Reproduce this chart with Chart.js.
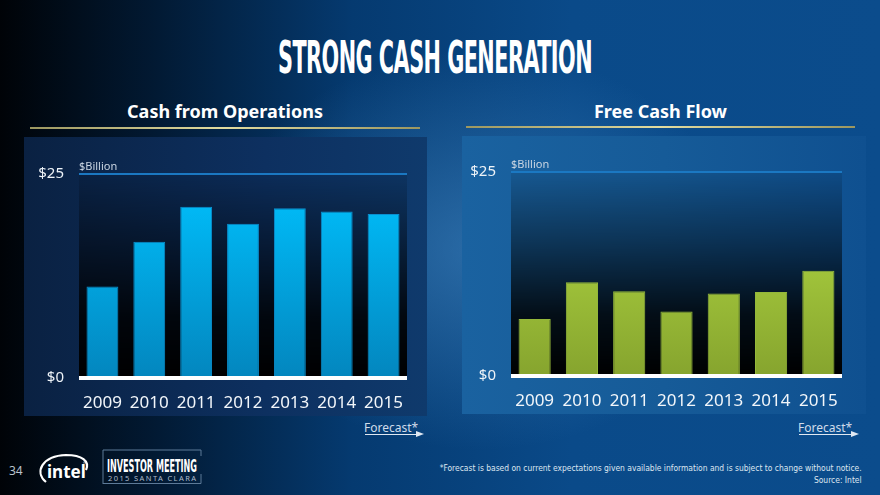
<!DOCTYPE html>
<html>
<head>
<meta charset="utf-8">
<script src="https://cdn.jsdelivr.net/npm/chart.js@4.4.1/dist/chart.umd.min.js"></script>
<style>
  html, body { margin: 0; padding: 0; }
  body {
    width: 880px; height: 495px; overflow: hidden; position: relative;
    font-family: "Noto Sans", "Open Sans", sans-serif; color: #fff;
    background:
      radial-gradient(ellipse 260px 200px at 480px 250px, rgba(70,140,200,0.55), rgba(70,140,200,0) 100%),
      linear-gradient(90deg, #000307 0%, #021a34 18%, #053a70 40%, #0a4a89 65%, #0b4c8c 100%);
  }
  .abs { position: absolute; }
  #title {
    top: 32px; left: 0; width: 870px; text-align: center;
    font-family: "Liberation Sans Narrow", "DejaVu Sans Condensed", sans-serif;
    font-weight: bold; font-size: 44px; line-height: 52px; letter-spacing: -1px;
  }
  #title span { display: inline-block; transform-origin: center; }
  .sub { top: 99px; font-weight: bold; font-size: 18px; text-align: center; }
  .rule { height: 2px; background: linear-gradient(90deg, #9c9760, #e2dca0 50%, #9c9760); }
  #p1 { left: 24px; top: 137px; width: 403px; height: 279px;
        background: linear-gradient(90deg, #0a2142 0%, #0d3060 60%, #0f3a6c 100%); }
  #p2 { left: 462px; top: 136px; width: 404px; height: 278px;
        background: linear-gradient(90deg, #1a62a0 0%, #165b98 50%, #0f5090 100%); }
  .fc { font-size: 12px; color: #d0dcea; }
  .arrow { height: 1px; background: #e0e8f2; }
  .head { width: 0; height: 0; border-top: 3.5px solid transparent; border-bottom: 3.5px solid transparent; border-left: 8px solid #e0e8f2; }
  #note { right: 18px; top: 462px; text-align: right; font-family: "Liberation Sans Narrow", "DejaVu Sans Condensed", sans-serif;
          font-size: 9.5px; line-height: 12px; color: #dde6f0; transform-origin: right top; }
</style>
</head>
<body>
<div id="title" class="abs"><span id="titleText">STRONG CASH GENERATION</span></div>

<div class="abs sub" style="left:30px; width:390px;">Cash from Operations</div>
<div class="abs rule" style="left:30px; top:127px; width:390px;"></div>
<div class="abs sub" style="left:466px; width:389px;">Free Cash Flow</div>
<div class="abs rule" style="left:466px; top:126px; width:389px;"></div>

<div id="p1" class="abs"><canvas id="cfoChart"></canvas></div>
<div id="p2" class="abs"><canvas id="fcfChart"></canvas></div>

<div class="abs fc" style="left:364px; top:419px;">Forecast*</div>
<div class="abs arrow" style="left:365px; top:434px; width:52px;"></div>
<div class="abs head" style="left:416px; top:431px;"></div>
<div class="abs fc" style="left:798px; top:419px;">Forecast*</div>
<div class="abs arrow" style="left:799px; top:434px; width:53px;"></div>
<div class="abs head" style="left:851px; top:431px;"></div>

<div class="abs" style="left:9px; top:462px; font-size:12px; color:#b8c2cc;">34</div>
<svg class="abs" style="left:36px; top:452px;" width="56" height="36" viewBox="0 0 56 36">
  <path d="M10 30 C -2 20, 6 4, 30 3 C 46 3, 54 9, 50 18" fill="none" stroke="#fff" stroke-width="2.2"/>
  <text x="11" y="26" fill="#fff" font-family="Noto Sans, sans-serif" font-weight="bold" font-size="17">intel</text>
  <text x="47" y="12" fill="#fff" font-size="4">®</text>
</svg>
<svg class="abs" style="left:100px; top:448px;" width="104" height="38">
  <path d="M3 36 L3 2 L101 2 L101 8" fill="none" stroke="#5d7a98" stroke-width="1"/>
  <path d="M3 35.5 L101 35.5 L101 26" fill="none" stroke="#5d7a98" stroke-width="1"/>
  <text x="7" y="24" fill="#fff" font-family="Liberation Sans Narrow, DejaVu Sans Condensed, sans-serif" font-weight="bold" font-size="17" textLength="90" lengthAdjust="spacingAndGlyphs">INVESTOR MEETING</text>
  <text x="8" y="33" fill="#aebccb" font-family="Noto Sans, sans-serif" font-size="7.5" textLength="88" lengthAdjust="spacing">2015 SANTA CLARA</text>
</svg>

<div id="note" class="abs">*Forecast is based on current expectations given available information and is subject to change without notice.<br>Source: Intel</div>

<script>
// values, $ billions
const years = ['2009', '2010', '2011', '2012', '2013', '2014', '2015'];
const cashFromOps = [11.2, 16.7, 21.0, 18.9, 20.8, 20.4, 20.1];
const freeCashFlow = [7.0, 11.5, 10.4, 7.9, 10.1, 10.3, 12.9];
const yTicks = [0, 25];
const unitLabel = '$Billion';

// squeeze the title and footnote into the slide's condensed look
const t = document.getElementById('titleText');
t.style.transform = 'scaleX(' + (314 / t.getBoundingClientRect().width) + ')';
const note = document.getElementById('note');
note.style.transform = 'scaleX(' + (422 / note.getBoundingClientRect().width) + ')';

// dark plot background and the "$Billion" caption
const plotBackdrop = {
  id: 'plotBackdrop',
  beforeDraw(chart) {
    const { ctx, chartArea: a } = chart;
    const g = ctx.createLinearGradient(0, a.top, 0, a.bottom);
    g.addColorStop(0, 'rgba(0,0,0,0.08)');
    g.addColorStop(0.35, 'rgba(0,0,0,0.45)');
    g.addColorStop(0.7, 'rgba(0,0,0,0.85)');
    g.addColorStop(1, 'rgba(0,0,0,1)');
    ctx.save();
    ctx.fillStyle = g;
    ctx.fillRect(a.left, a.top, a.right - a.left, a.bottom - a.top);
    ctx.restore();
  },
  afterDraw(chart) {
    const { ctx, chartArea: a } = chart;
    ctx.save();
    ctx.font = '11px "Noto Sans", sans-serif';
    ctx.fillStyle = '#c9d5e2';
    ctx.textBaseline = 'bottom';
    ctx.fillText(unitLabel, a.left, a.top - 2);
    ctx.restore();
  }
};

function barFill(top, bottom) {
  return function(context) {
    const a = context.chart.chartArea;
    if (!a) return top;
    const g = context.chart.ctx.createLinearGradient(0, a.top, 0, a.bottom);
    g.addColorStop(0, top);
    g.addColorStop(1, bottom);
    return g;
  };
}

function makeChart(id, values, topColor, bottomColor, edgeColor, pad, yWidth) {
  return new Chart(document.getElementById(id), {
    type: 'bar',
    data: {
      labels: years,
      datasets: [{
        data: values,
        backgroundColor: barFill(topColor, bottomColor),
        borderColor: edgeColor,
        borderWidth: 1,
        borderSkipped: 'bottom',
        barPercentage: 0.68,
        categoryPercentage: 1
      }]
    },
    options: {
      responsive: true,
      maintainAspectRatio: false,
      animation: false,
      layout: { padding: pad },
      plugins: {
        legend: { display: false },
        tooltip: { enabled: false }
      },
      scales: {
        x: {
          grid: { display: false, drawTicks: false },
          border: { display: false },
          ticks: {
            color: '#f2f6fa',
            font: { family: 'Noto Sans', size: 17 },
            padding: 15,
            maxRotation: 0
          },
          afterFit(scale) { scale.height = 38; }
        },
        y: {
          min: 0,
          max: 25,
          z: 1,
          afterBuildTicks(scale) { scale.ticks = yTicks.map(v => ({ value: v })); },
          grid: {
            drawTicks: false,
            color: c => c.tick.value === 0 ? '#ffffff' : '#1b78c2',
            lineWidth: c => c.tick.value === 0 ? 4 : 2
          },
          border: { display: false },
          ticks: {
            color: '#eef3f8',
            font: { family: 'Noto Sans', size: 15 },
            padding: 15,
            callback: v => '$' + v
          },
          afterFit(scale) { scale.width = yWidth; }
        }
      }
    },
    plugins: [plotBackdrop]
  });
}

makeChart('cfoChart', cashFromOps, '#00c2ff', '#0386be', '#0a8fcf',
  { top: 37, right: 20, bottom: 0, left: 0 }, 55);
makeChart('fcfChart', freeCashFlow, '#b8e046', '#86a42e', '#94b83a',
  { top: 36, right: 24, bottom: 0, left: 0 }, 49);
</script>
</body>
</html>
